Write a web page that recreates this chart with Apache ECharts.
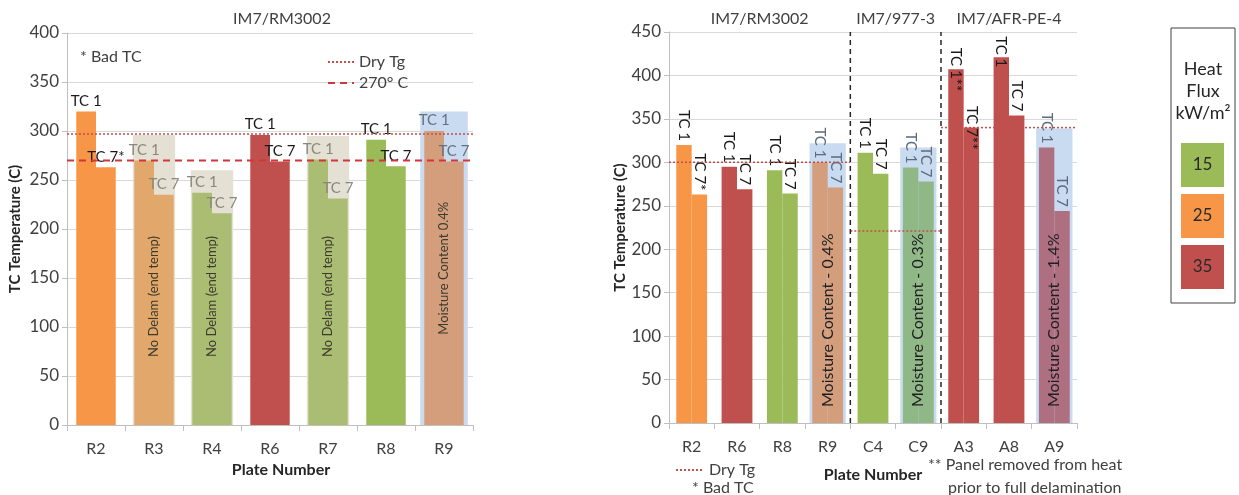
<!DOCTYPE html>
<html>
<head>
<meta charset="utf-8">
<script src="https://cdn.jsdelivr.net/npm/echarts@6/dist/echarts.min.js"></script>
<style>
  html, body { margin: 0; padding: 0; background: #ffffff; }
  #chart { width: 1239px; height: 495px; }
</style>
</head>
<body>
<div id="chart"></div>
<script>
// ---- Left panel: IM7/RM3002 plates ----
const leftPlates = ['R2', 'R3', 'R4', 'R6', 'R7', 'R8', 'R9'];
const leftTC1 = [320, 270, 237, 296, 271, 291, 300];
const leftTC7 = [263, 235, 216, 269, 231, 264, 269];
const leftFlux = [25, 25, 15, 35, 15, 15, 25];
const leftTC7Note = ['*', '', '', '', '', '', ''];
const leftNoDelamTop = [null, 296, 260, null, 295, null, null];
const leftMoistureTop = [null, null, null, null, null, null, 320];
const leftMoistureText = [null, null, null, null, null, null, 'Moisture Content 0.4%'];
const leftDryTg = 297;
const leftLimit = 270;

// ---- Right panel: three material systems ----
const rightPlates = ['R2', 'R6', 'R8', 'R9', 'C4', 'C9', 'A3', 'A8', 'A9'];
const rightTC1 = [320, 295, 291, 300, 311, 294, 407, 421, 317];
const rightTC7 = [263, 269, 264, 271, 287, 278, 340, 354, 244];
const rightFlux = [25, 35, 15, 25, 15, 15, 35, 35, 35];
const rightTC1Note = ['', '', '', '', '', '', '**', '', ''];
const rightTC7Note = ['*', '', '', '', '', '', '**', '', ''];
const rightMoistureTop = [null, null, null, 322, null, 317, null, null, 339];
const rightMoistureText = [null, null, null, 'Moisture Content - 0.4%', null, 'Moisture Content - 0.3%', null, null, 'Moisture Content - 1.4%'];
const materialNames = ['IM7/RM3002', 'IM7/977-3', 'IM7/AFR-PE-4'];
const materialBounds = [0, 4, 6, 9];
const materialDryTg = [300, 221, 340];
const heatFluxLevels = [15, 25, 35];

// ---- styling ----
const FONT = 'Lato, "Open Sans", sans-serif';
const TXT = '#404040';
const fluxColor = { 15: '#9BBB59', 25: '#F79646', 35: '#C0504D' };
const noDelamColor = { 15: '#AABD72', 25: '#E2A76B', 35: '#C98A80' };
const moistColor = { 15: '#8FB886', 25: '#D49E7C', 35: '#AE6F80' };
const beigeShade = '#E4E1D4';
const blueShade = '#C9DBF0';
const dryColor = '#C0504D';

// label tweaks for the tall A-series bars near the top of the right plot
const rightTC1Shift = { 6: -22, 7: -10 };
const rightTC7Shift = { 6: -22 };

function leftBar(values, notes, tag) {
  return values.map((v, i) => {
    const shadedND = leftNoDelamTop[i] != null;
    const shadedM = leftMoistureTop[i] != null;
    const f = leftFlux[i];
    const color = shadedND ? noDelamColor[f] : shadedM ? moistColor[f] : fluxColor[f];
    const lc = shadedND ? '#8A877B' : shadedM ? '#66707E' : '#1A1A1A';
    return {
      value: v,
      itemStyle: { color },
      label: { show: true, position: 'top', distance: 3, color: lc,
               formatter: tag + (notes ? notes[i] : '') }
    };
  });
}

function rightBar(values, notes, tag, shifts) {
  return values.map((v, i) => {
    const shaded = rightMoistureTop[i] != null;
    const f = rightFlux[i];
    return {
      value: v,
      itemStyle: { color: shaded ? moistColor[f] : fluxColor[f] },
      label: { show: true, position: 'top', rotate: -90, align: 'right',
               verticalAlign: 'middle',
               distance: shifts[i] != null ? shifts[i] : 4,
               color: shaded ? '#5E6B7D' : '#1A1A1A',
               formatter: tag + notes[i] }
    };
  });
}

const barLabelStyle = { fontFamily: FONT, fontSize: 15 };

const series = [];
// left: shaded backdrops
series.push({ type: 'bar', xAxisIndex: 1, yAxisIndex: 0, z: 1, silent: true,
  barWidth: '73%', barGap: '-100%', itemStyle: { color: beigeShade },
  data: leftNoDelamTop.map(v => v == null ? '-' : v) });
series.push({ type: 'bar', xAxisIndex: 2, yAxisIndex: 0, z: 1, silent: true,
  barWidth: '82%', barGap: '-100%', itemStyle: { color: blueShade },
  data: leftMoistureTop.map(v => v == null ? '-' : v) });
// left: thermocouple bars
series.push({ name: 'TC 1', type: 'bar', xAxisIndex: 0, yAxisIndex: 0, z: 2,
  barWidth: '34%', barGap: '0%', label: barLabelStyle,
  data: leftBar(leftTC1, null, 'TC 1') });
series.push({ name: 'TC 7', type: 'bar', xAxisIndex: 0, yAxisIndex: 0, z: 2,
  barWidth: '34%', barGap: '0%', label: barLabelStyle,
  data: leftBar(leftTC7, leftTC7Note, 'TC 7') });
// left: notes written inside the shaded backdrops
series.push({ type: 'bar', xAxisIndex: 1, yAxisIndex: 0, z: 6, silent: true,
  barWidth: '73%', barGap: '-100%', itemStyle: { color: 'rgba(0,0,0,0)' },
  label: { show: true, position: 'insideBottom', distance: 68, rotate: 90,
           align: 'left', verticalAlign: 'middle', fontFamily: FONT,
           fontSize: 13, color: '#3B3B2E', formatter: 'No Delam (end temp)' },
  data: leftNoDelamTop.map(v => v == null ? '-' : v) });
series.push({ type: 'bar', xAxisIndex: 2, yAxisIndex: 0, z: 6, silent: true,
  barWidth: '82%', barGap: '-100%', itemStyle: { color: 'rgba(0,0,0,0)' },
  label: { show: true, position: 'inside', rotate: 90, align: 'center',
           verticalAlign: 'middle', fontFamily: FONT, fontSize: 13,
           color: '#3B3B2E', formatter: p => leftMoistureText[p.dataIndex] || '' },
  data: leftMoistureTop.map(v => v == null ? '-' : v) });
// left: reference lines
series.push({ name: 'Dry Tg', type: 'line', xAxisIndex: 3, yAxisIndex: 0, z: 10,
  symbol: 'none', silent: true,
  itemStyle: { color: dryColor },
  lineStyle: { color: dryColor, width: 1.5, type: [2, 2] },
  data: [[0, leftDryTg], [leftPlates.length, leftDryTg]] });
series.push({ name: '270° C', type: 'line', xAxisIndex: 3, yAxisIndex: 0, z: 10,
  symbol: 'none', silent: true,
  itemStyle: { color: '#D0373A' },
  lineStyle: { color: '#D0373A', width: 2, type: [7, 5] },
  data: [[0, leftLimit], [leftPlates.length, leftLimit]] });

// right: shaded backdrops
series.push({ type: 'bar', xAxisIndex: 5, yAxisIndex: 1, z: 1, silent: true,
  barWidth: '80%', barGap: '-100%', itemStyle: { color: blueShade },
  data: rightMoistureTop.map(v => v == null ? '-' : v) });
series.push({ type: 'bar', xAxisIndex: 4, yAxisIndex: 1, z: 2,
  barWidth: '34%', barGap: '0%', label: barLabelStyle,
  data: rightBar(rightTC1, rightTC1Note, 'TC 1', rightTC1Shift) });
series.push({ type: 'bar', xAxisIndex: 4, yAxisIndex: 1, z: 2,
  barWidth: '34%', barGap: '0%', label: barLabelStyle,
  data: rightBar(rightTC7, rightTC7Note, 'TC 7', rightTC7Shift) });
series.push({ type: 'bar', xAxisIndex: 5, yAxisIndex: 1, z: 6, silent: true,
  barWidth: '80%', barGap: '-100%', itemStyle: { color: 'rgba(0,0,0,0)' },
  label: { show: true, position: 'insideBottom', distance: 16, rotate: 90,
           align: 'left', verticalAlign: 'middle', fontFamily: FONT,
           fontSize: 16, color: '#1F1F1F',
           formatter: p => rightMoistureText[p.dataIndex] || '' },
  data: rightMoistureTop.map(v => v == null ? '-' : v) });
// right: dry Tg segments per material and dividers between materials
materialDryTg.forEach((tg, k) => {
  series.push({ name: 'Dry Tg', type: 'line', xAxisIndex: 6, yAxisIndex: 1, z: 10,
    symbol: 'none', silent: true,
    itemStyle: { color: dryColor },
    lineStyle: { color: dryColor, width: 1.5, type: [2, 2] },
    data: [[materialBounds[k], tg], [materialBounds[k + 1], tg]] });
});
materialBounds.slice(1, -1).forEach(b => {
  series.push({ type: 'line', xAxisIndex: 6, yAxisIndex: 1, z: 10,
    symbol: 'none', silent: true,
    lineStyle: { color: '#262626', width: 1.5, type: [5, 4] },
    data: [[b, 0], [b, 450]] });
});

const catAxis = (grid, data) => ({
  type: 'category', gridIndex: grid, data,
  axisLine: { lineStyle: { color: '#BFBFBF' } },
  axisTick: { show: true, length: 6, lineStyle: { color: '#BFBFBF' } },
  axisLabel: { fontFamily: FONT, fontSize: 16, color: TXT, margin: 16 },
  name: 'Plate Number', nameLocation: 'middle', nameGap: 37,
  nameTextStyle: { fontFamily: FONT, fontSize: 16, fontWeight: 'bold', color: '#262626' }
});
const hiddenCat = (grid, data) => ({ type: 'category', gridIndex: grid, data, show: false });
const hiddenVal = (grid, max) => ({ type: 'value', gridIndex: grid, min: 0, max, show: false });
const valAxis = (grid, max) => ({
  type: 'value', gridIndex: grid, min: 0, max, interval: 50,
  axisLine: { show: true, lineStyle: { color: '#BFBFBF' } },
  axisTick: { show: true, length: 5, lineStyle: { color: '#BFBFBF' } },
  splitLine: { lineStyle: { color: '#D9D9D9' } },
  axisLabel: { fontFamily: FONT, fontSize: 17, color: TXT, margin: 8 },
  name: 'TC Temperature (C)', nameLocation: 'middle', nameGap: 44,
  nameTextStyle: { fontFamily: FONT, fontSize: 15, fontWeight: 'bold', color: '#262626' }
});

const leftX = catAxis(0, leftPlates);
leftX.nameTextStyle.padding = [0, 0, 0, 22];
const rightX = catAxis(1, rightPlates);
rightX.nameGap = 44;
const rightY = valAxis(1, 450);
rightY.nameGap = 35;

const legendCommon = {
  selectedMode: false,
  itemStyle: { opacity: 0 },
  textStyle: { fontFamily: FONT, fontSize: 16, color: TXT }
};

const chart = echarts.init(document.getElementById('chart'), null, { renderer: 'canvas' });
chart.setOption({
  animation: false,
  textStyle: { fontFamily: FONT },
  grid: [
    { left: 67, top: 33, width: 406, height: 392 },
    { left: 669, top: 32, width: 408, height: 391 }
  ],
  xAxis: [
    leftX, hiddenCat(0, leftPlates), hiddenCat(0, leftPlates), hiddenVal(0, leftPlates.length),
    rightX, hiddenCat(1, rightPlates), hiddenVal(1, rightPlates.length)
  ],
  yAxis: [valAxis(0, 400), rightY],
  legend: [
    Object.assign({ data: ['Dry Tg', '270° C'], orient: 'vertical', left: 322, top: 49,
      itemWidth: 26, itemHeight: 12, itemGap: 5 }, legendCommon),
    Object.assign({ data: ['Dry Tg'], orient: 'horizontal', left: 670, top: 457,
      itemWidth: 28, itemHeight: 12 }, legendCommon)
  ],
  series
});

// Text annotations and the heat-flux key
const graphic = [];
const txt = (x, y, text, opts = {}) => ({
  type: 'text', x, y, silent: true,
  style: Object.assign({ text, fontFamily: FONT, fontSize: 16, fill: TXT,
    textAlign: 'left', textVerticalAlign: 'middle' }, opts)
});
graphic.push(txt(282, 19, 'IM7/RM3002', { textAlign: 'center' }));
graphic.push(txt(80, 57, '* Bad TC'));
graphic.push(txt(692, 488, '* Bad TC'));
graphic.push(txt(928, 465, '** Panel removed from heat'));
graphic.push(txt(948, 488, 'prior to full delamination'));
materialNames.forEach((name, k) => {
  const mid = (materialBounds[k] + materialBounds[k + 1]) / 2;
  const px = chart.convertToPixel({ xAxisIndex: 6, yAxisIndex: 1 }, [mid, 0]);
  graphic.push(txt(px[0], 19, name, { textAlign: 'center' }));
});
// heat flux key box
const boxX = 1171, boxY = 28, boxW = 64, boxH = 275;
graphic.push({ type: 'rect', silent: true, shape: { x: boxX, y: boxY, width: boxW, height: boxH },
  style: { fill: '#ffffff', stroke: '#404040', lineWidth: 1 } });
['Heat', 'Flux', 'kW/m²'].forEach((t, i) => {
  graphic.push(txt(boxX + boxW / 2, 69 + i * 22, t, { textAlign: 'center', fontSize: 18, fill: '#262626' }));
});
heatFluxLevels.forEach((f, i) => {
  const y = 143 + i * 51;
  graphic.push({ type: 'rect', silent: true,
    shape: { x: 1181, y, width: 43, height: 44 }, style: { fill: fluxColor[f] } });
  graphic.push(txt(1202.5, y + 22, String(f), { textAlign: 'center', fontSize: 17, fill: '#2A2A2A' }));
});
chart.setOption({ graphic });
</script>
</body>
</html>
